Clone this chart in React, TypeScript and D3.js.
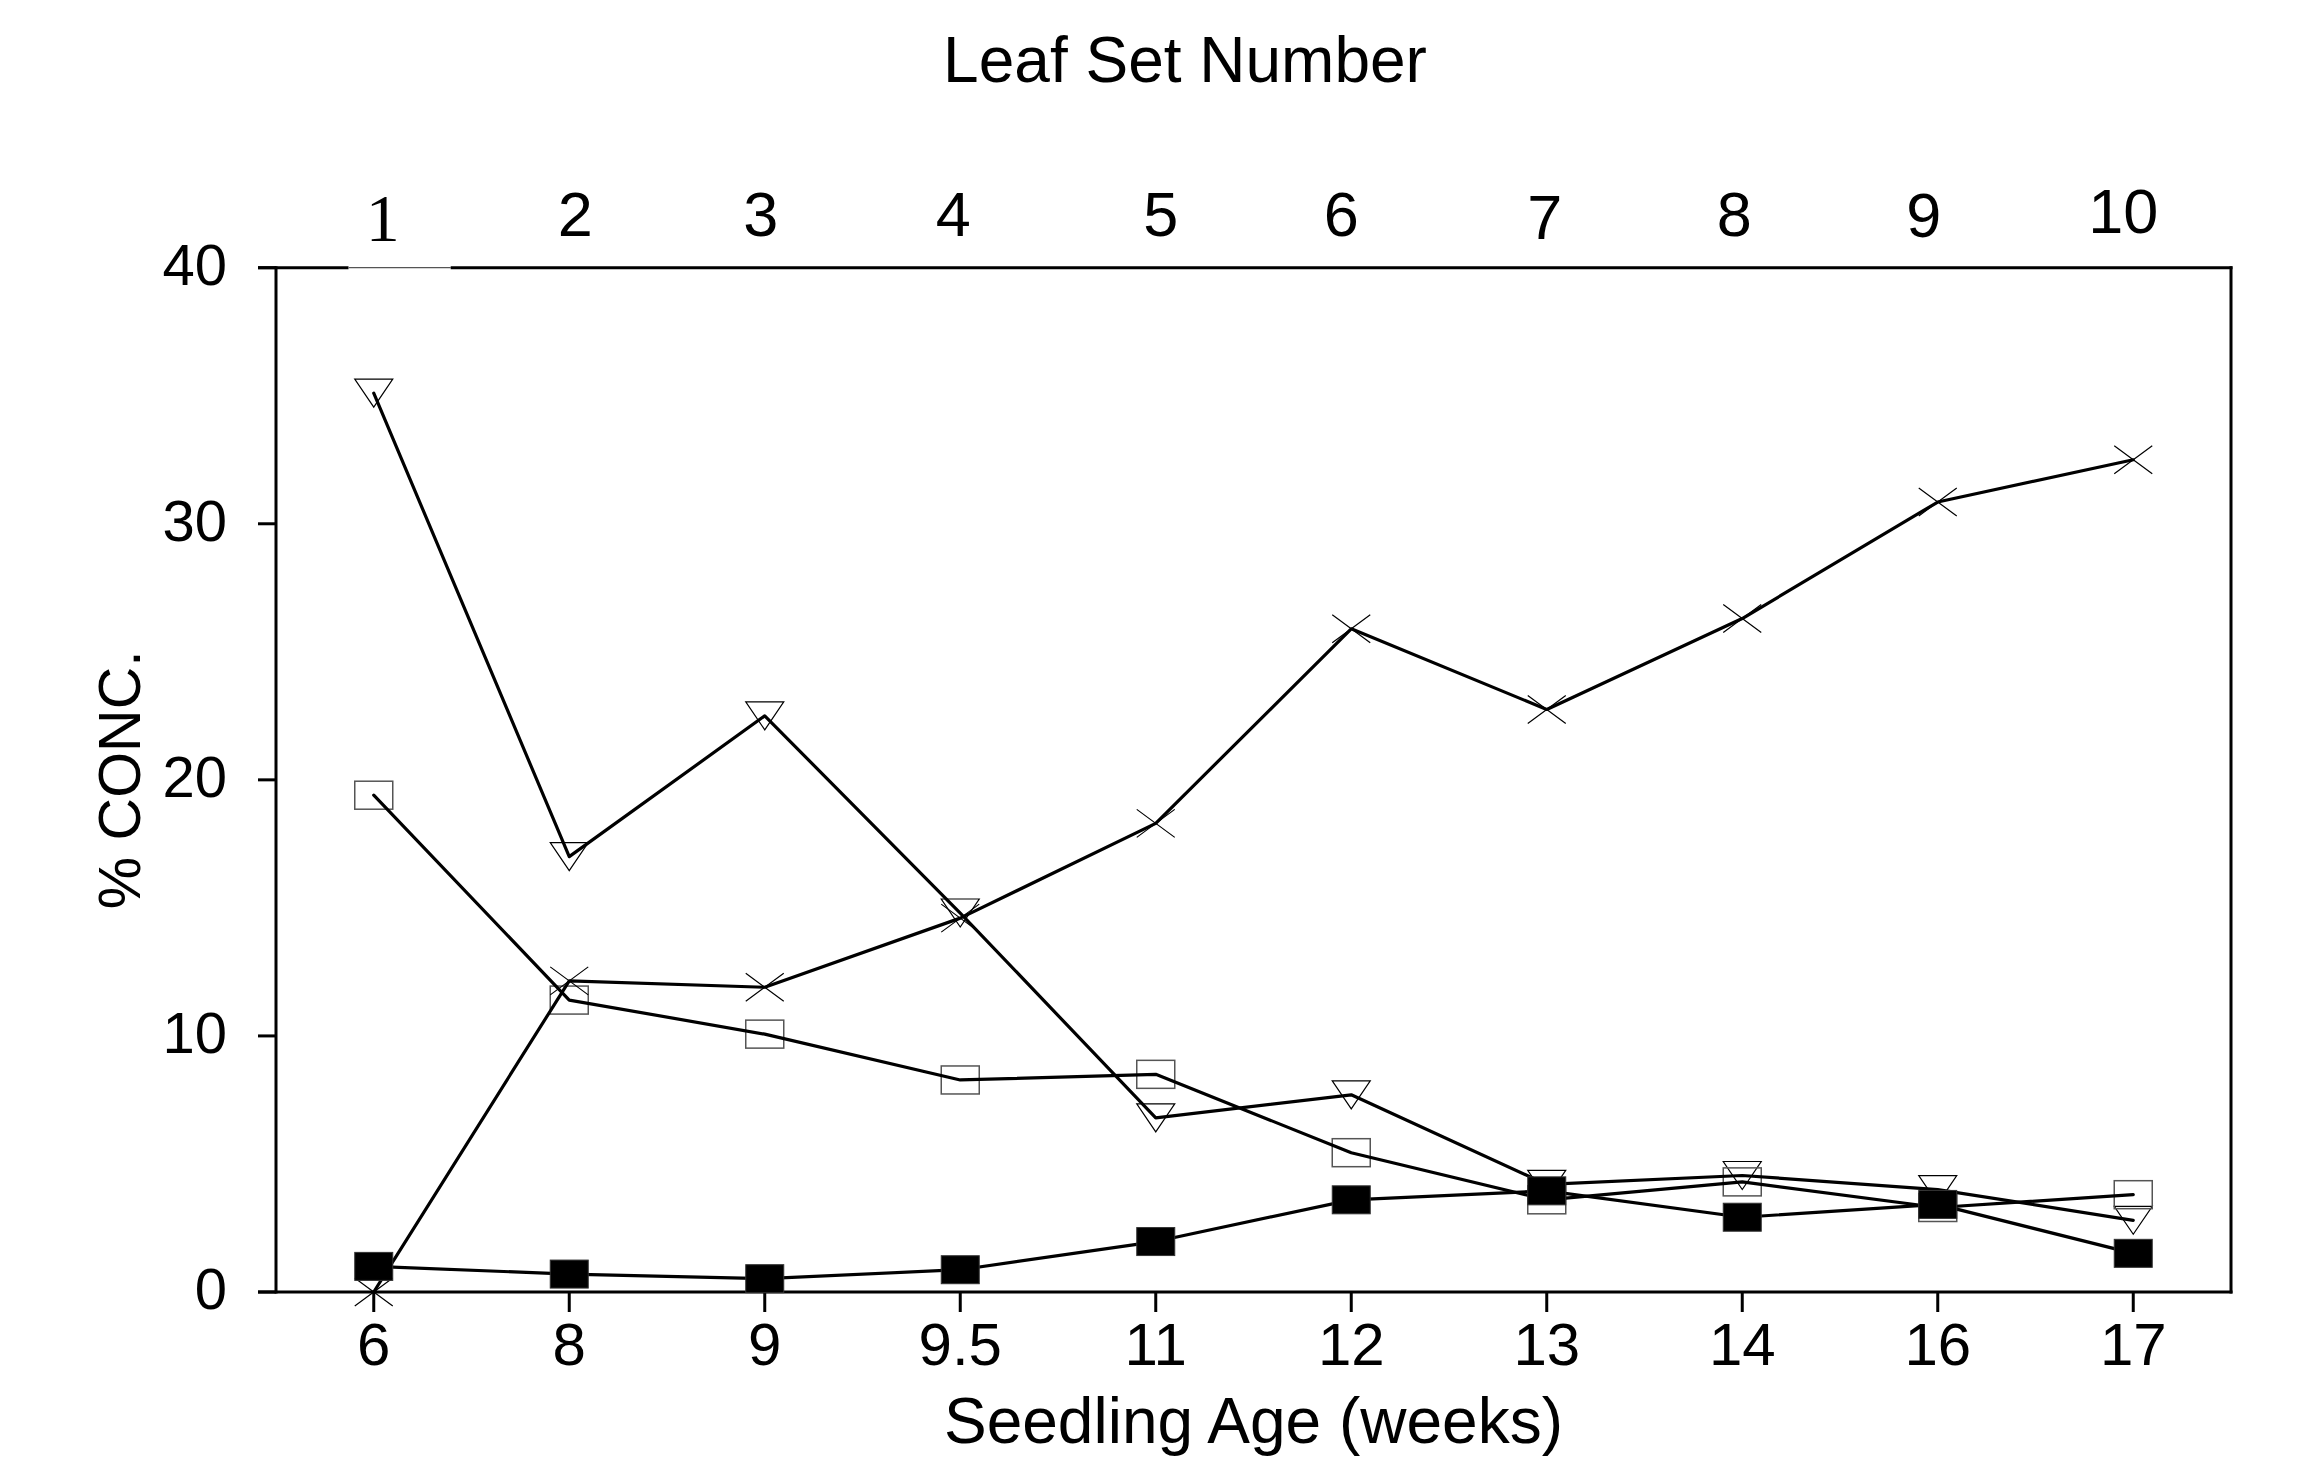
import React from 'react';
import * as d3 from 'd3';

const ageLabels = ['6', '8', '9', '9.5', '11', '12', '13', '14', '16', '17'];
const leafSetLabels = ['1', '2', '3', '4', '5', '6', '7', '8', '9', '10'];
const yTicks = [0, 10, 20, 30, 40];

const triangleSeries = [35.1, 17.0, 22.5, 14.8, 6.8, 7.7, 4.2, 4.55, 4.0, 2.8];
const crossSeries = [0, 12.15, 11.9, 14.6, 18.3, 25.9, 22.75, 26.3, 30.85, 32.5];
const openSquareSeries = [19.4, 11.4, 10.07, 8.28, 8.5, 5.44, 3.6, 4.3, 3.3, 3.8];
const filledSquareSeries = [1.0, 0.7, 0.52, 0.87, 1.97, 3.6, 3.95, 2.92, 3.42, 1.51];

// layout-only nudges for the hand-placed top labels (px)
const topLabelDx = [9, 6, -4, -7, 5, -10, -2, -8, -14, -10];
const topLabelDy = [2, 0, 0, 0, 0, 0, 3, 0, 1, -3];

const W = 2320;
const H = 1484;
const L = 276;
const R = 2231;
const T = 267.7;
const B = 1292;
const MW = 19; // half marker width
const MH = 14; // half marker height
const SANS = '"Liberation Sans", Arial, Helvetica, sans-serif';
const SERIF = '"Liberation Serif", "Times New Roman", serif';

export default function App() {
  const x = d3.scalePoint<string>().domain(ageLabels).range([L, R]).padding(0.5);
  const y = d3.scaleLinear().domain([0, 40]).range([B, T]);

  const line = d3
    .line<number>()
    .x((_, i) => x(ageLabels[i]) as number)
    .y((v) => y(v));

  const series = [triangleSeries, crossSeries, openSquareSeries, filledSquareSeries];

  return (
    <svg
      width={W}
      height={H}
      viewBox={`0 0 ${W} ${H}`}
      style={{ position: 'absolute', left: 0, top: 0, background: '#fff' }}
    >
      <rect x={0} y={0} width={W} height={H} fill="#fff" />

      {/* titles */}
      <text x={1185} y={82} fontFamily={SANS} fontSize={64} textAnchor="middle" fill="#000">
        Leaf Set Number
      </text>
      <text x={(L + R) / 2} y={1443} fontFamily={SANS} fontSize={64} textAnchor="middle" fill="#000">
        Seedling Age (weeks)
      </text>
      <text
        transform={`translate(140, ${(T + B) / 2}) rotate(-90)`}
        fontFamily={SANS}
        fontSize={59}
        textAnchor="middle"
        fill="#000"
      >
        % CONC.
      </text>

      {/* top leaf set labels */}
      {leafSetLabels.map((lab, i) => (
        <text
          key={'top' + lab}
          x={(x(ageLabels[i]) as number) + topLabelDx[i]}
          y={(i === 0 ? 239 : 236) + topLabelDy[i]}
          fontFamily={i === 0 ? SERIF : SANS}
          fontSize={i === 0 ? 68 : 63}
          textAnchor="middle"
          fill="#000"
        >
          {lab}
        </text>
      ))}

      {/* y ticks and labels */}
      {yTicks.map((t) => (
        <g key={'y' + t}>
          <line x1={258} x2={L} y1={y(t)} y2={y(t)} stroke="#000" strokeWidth={3} />
          <text x={227} y={y(t) + 17} fontFamily={SANS} fontSize={58} textAnchor="end" fill="#000">
            {t}
          </text>
        </g>
      ))}

      {/* x ticks and labels */}
      {ageLabels.map((a) => (
        <g key={'x' + a}>
          <line x1={x(a) as number} x2={x(a) as number} y1={B} y2={B + 20} stroke="#000" strokeWidth={3} />
          <text x={x(a) as number} y={1365} fontFamily={SANS} fontSize={60} textAnchor="middle" fill="#000">
            {a}
          </text>
        </g>
      ))}

      {/* frame */}
      <line x1={L} x2={L} y1={T - 1.5} y2={B + 1.5} stroke="#000" strokeWidth={3} />
      <line x1={R} x2={R} y1={T - 1.5} y2={B + 1.5} stroke="#000" strokeWidth={3} />
      <line x1={258} x2={R + 1.5} y1={B} y2={B} stroke="#000" strokeWidth={3} />
      <line x1={258} x2={348.5} y1={T} y2={T} stroke="#000" strokeWidth={3} />
      <line x1={348.5} x2={450.7} y1={T} y2={T} stroke="#555" strokeWidth={1.2} />
      <line x1={450.7} x2={R + 1.5} y1={T} y2={T} stroke="#000" strokeWidth={3} />

      {/* open markers */}
      {triangleSeries.map((v, i) => {
        const cx = x(ageLabels[i]) as number;
        const cy = y(v);
        return (
          <path
            key={'tri' + i}
            d={`M${cx - MW},${cy - MH}L${cx + MW},${cy - MH}L${cx},${cy + MH}Z`}
            fill="none"
            stroke="#000"
            strokeWidth={1.2}
          />
        );
      })}
      {openSquareSeries.map((v, i) => {
        const cx = x(ageLabels[i]) as number;
        const cy = y(v);
        return (
          <rect
            key={'osq' + i}
            x={cx - MW}
            y={cy - MH}
            width={2 * MW}
            height={2 * MH}
            fill="none"
            stroke="#555"
            strokeWidth={1.5}
          />
        );
      })}
      {crossSeries.map((v, i) => {
        const cx = x(ageLabels[i]) as number;
        const cy = y(v);
        return (
          <path
            key={'x' + i}
            d={`M${cx - MW},${cy - MH}L${cx + MW},${cy + MH}M${cx - MW},${cy + MH}L${cx + MW},${cy - MH}`}
            fill="none"
            stroke="#000"
            strokeWidth={1.2}
          />
        );
      })}

      {/* lines */}
      {series.map((s, k) => (
        <path
          key={'line' + k}
          d={line(s) as string}
          fill="none"
          stroke="#000"
          strokeWidth={3.2}
          strokeLinejoin="round"
          strokeLinecap="round"
        />
      ))}

      {/* filled squares */}
      {filledSquareSeries.map((v, i) => {
        const cx = x(ageLabels[i]) as number;
        const cy = y(v);
        return (
          <rect
            key={'fsq' + i}
            x={cx - MW}
            y={cy - MH}
            width={2 * MW}
            height={2 * MH}
            fill="#000"
            stroke="#333"
            strokeWidth={1}
          />
        );
      })}
    </svg>
  );
}
